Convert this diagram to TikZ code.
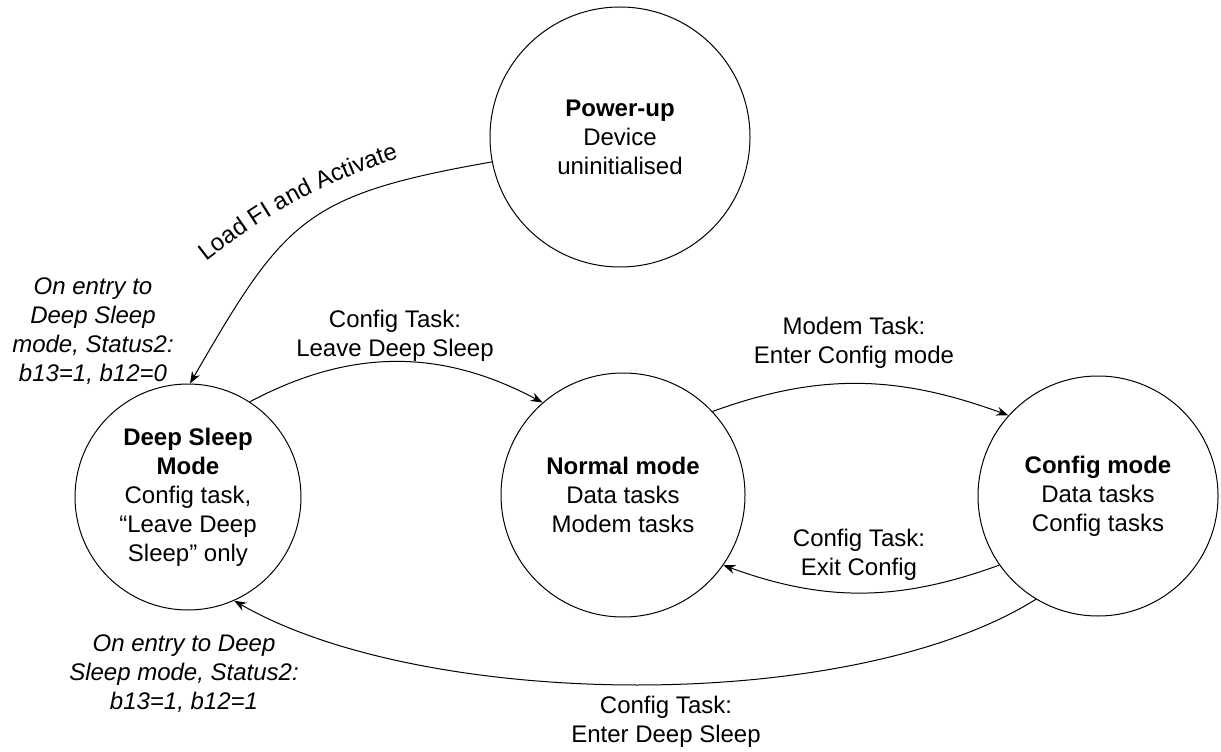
\documentclass[tikz,border=0pt]{standalone}
\usepackage{fontspec}
\setmainfont{Liberation Sans}
\usetikzlibrary{arrows.meta}
\usetikzlibrary{decorations.text}

\begin{document}
\begin{tikzpicture}[x=0.5pt, y=0.5pt,
        font=\fontsize{12pt}{14.5pt}\selectfont,
        state/.style={shape=circle, draw=black, line width=0.5pt, align=center, inner sep=0pt},
        arr/.style={-{Stealth[length=6pt, width=4.5pt]}, line width=0.5pt},
        lbl/.style={align=center},
        note/.style={align=center, font=\fontsize{12pt}{14.5pt}\selectfont\itshape}]
        \useasboundingbox (0,0) rectangle (1221,751);
        \node[state, minimum size=130pt] (pwr) at (620,614) {\textbf{Power-up}\\Device\\uninitialised};
        \node[state, minimum size=113pt] (deep) at (188,254) {\textbf{Deep Sleep}\\\textbf{Mode}\\Config task,\\“Leave Deep\\Sleep” only};
        \node[state, minimum size=122pt] (norm) at (623,256) {\textbf{Normal mode}\\Data tasks\\Modem tasks};
        \node[state, minimum size=120pt] (cfg) at (1098,255) {\textbf{Config mode}\\Data tasks\\Config tasks};
        % power-up to deep sleep
        \draw[arr] (pwr.191) to[out=190, in=60, looseness=1.3] (deep.89);
        \coordinate (lfa0) at (197,482);
        \coordinate (lfa1) at (410,597);
        \path[postaction={decorate}, decoration={text along path, text align=center,
            text={|\fontsize{12pt}{14.5pt}\selectfont|Load FI and Activate}}]
          (lfa0) to[bend left=10] (lfa1);
        \node[note] (entry0) at (93,420) {On entry to\\Deep Sleep\\mode, Status2:\\b13=1, b12=0};
        % deep sleep to normal
        \draw[arr] (deep.57) to[out=28, in=152] (norm.131);
        \node[lbl] (leave) at (395,415) {Config Task:\\Leave Deep Sleep};
        % normal to config
        \draw[arr] (norm.43) to[out=20, in=160] (cfg.138);
        \node[lbl] (enter) at (854,408) {Modem Task:\\Enter Config mode};
        % config back to normal
        \draw[arr] (cfg.215) to[out=200, in=340] (norm.325);
        \node[lbl] (exit) at (859,196) {Config Task:\\Exit Config};
        % config to deep sleep
        \draw[arr] (cfg.239) to[out=212, in=330, looseness=0.7] (deep.294);
        \node[lbl] (sleep) at (666,29) {Config Task:\\Enter Deep Sleep};
        \node[note] (entry1) at (184,77) {On entry to Deep\\Sleep mode, Status2:\\b13=1, b12=1};
\end{tikzpicture}
\end{document}
